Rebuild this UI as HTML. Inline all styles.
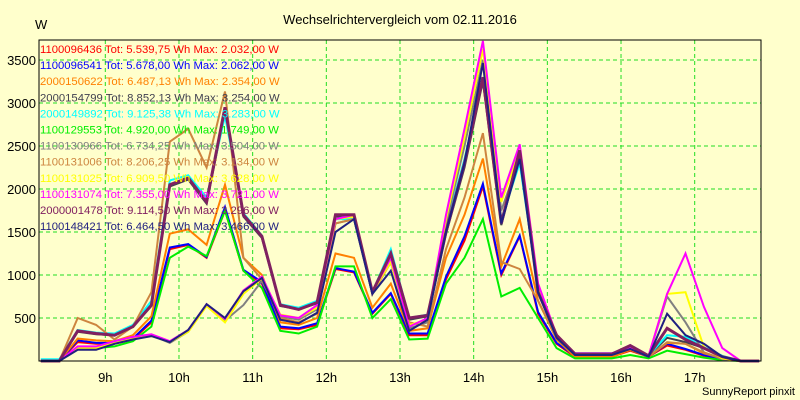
<!DOCTYPE html>
<html><head><meta charset="utf-8"><style>
html,body{margin:0;padding:0;background:#ffffcc;}
svg{display:block;font-family:"Liberation Sans",sans-serif;}
</style></head><body>
<svg id="chart" width="800" height="400" viewBox="0 0 800 400">
<rect x="0" y="0" width="800" height="400" fill="#ffffcc"/>
<text x="400" y="24" text-anchor="middle" font-size="13" fill="#000">Wechselrichtervergleich vom 02.11.2016</text>
<text x="35" y="29" font-size="13" fill="#000">W</text>
<text x="795" y="395" text-anchor="end" font-size="11" fill="#000">SunnyReport pinxit</text>
<g id="grid"></g>
<g id="series"></g>
<g id="axes"></g>
<g id="legend"></g>
</svg>
<script>
const times = ["08:07","08:22","08:37","08:52","09:07","09:22","09:37","09:52","10:07","10:22","10:37","10:52","11:07","11:22","11:37","11:52","12:07","12:22","12:37","12:52","13:07","13:22","13:37","13:52","14:07","14:22","14:37","14:52","15:07","15:22","15:37","15:52","16:07","16:22","16:37","16:52","17:07","17:22","17:37","17:52"];
const xTicks = [9,10,11,12,13,14,15,16,17];
const yTicks = [500,1000,1500,2000,2500,3000,3500];
const seriesNames = ["1100096436","1100096541","2000150622","2000154799","2000149892","1100129553","1100130966","1100131006","1100131025","1100131074","2000001478","1100148421"];
const seriesTot = ["5.539,75","5.678,00","6.487,13","8.852,13","9.125,38","4.920,00","6.734,25","8.206,25","6.909,50","7.355,00","9.114,50","6.464,50"];
const seriesMax = ["2.032,00","2.062,00","2.354,00","3.254,00","3.283,00","1.749,00","3.504,00","3.134,00","3.628,00","3.721,00","3.296,00","3.466,00"];
const seriesColors = ["#ff0000","#0000ff","#ff8000","#404050","#00ffff","#00ee00","#808080","#cd853f","#ffff00","#ff00ff","#802060","#202080"];
const s1100096436 = [0,0,220,200,200,250,450,1300,1350,1200,1750,1050,900,380,370,420,1070,1030,550,780,300,300,950,1400,2032,1000,1450,550,200,50,50,50,120,50,180,130,60,20,0,0];
const s1100096541 = [0,0,240,210,210,260,470,1320,1360,1210,1790,1060,920,400,380,440,1080,1040,560,790,320,320,980,1450,2062,1020,1460,570,210,60,60,60,130,50,200,140,70,20,0,0];
const s2000150622 = [0,0,260,240,230,300,520,1480,1530,1350,2050,1200,1000,450,420,500,1250,1200,620,900,350,380,1200,1700,2354,1100,1650,700,250,50,50,50,130,50,210,200,90,30,0,0];
const s2000154799 = [0,0,340,310,300,400,640,2030,2110,1830,2900,1680,1430,640,600,670,1680,1680,780,1220,480,520,1480,2250,3254,1580,2400,800,290,80,80,80,170,60,270,220,150,50,0,0];
const s2000149892 = [20,20,360,330,320,420,700,2100,2160,1900,2850,1720,1460,660,620,700,1650,1650,800,1300,500,540,1550,2350,3283,1650,2300,850,300,90,90,90,170,60,300,280,160,60,0,0];
const s1100129553 = [0,0,150,150,170,230,400,1200,1330,1220,1749,1050,850,350,320,400,1100,1100,500,720,250,260,900,1200,1650,750,850,500,150,30,30,30,70,30,120,80,40,10,0,0];
const s1100130966 = [0,0,150,150,230,270,300,210,340,650,470,650,930,520,480,600,1600,1650,790,1150,380,450,1600,2500,3504,1750,2350,850,280,80,80,80,150,60,750,450,100,20,0,0];
const s1100131006 = [0,0,500,420,250,400,800,2550,2700,2250,3134,1200,950,500,450,550,1600,1650,780,1150,450,400,1300,1900,2650,1150,1070,700,260,70,70,70,150,50,220,200,100,30,0,0];
const s1100131025 = [0,0,150,150,220,260,290,220,340,640,450,780,960,540,500,620,1650,1680,800,1150,420,480,1650,2600,3628,1850,2450,880,290,80,80,80,150,60,780,800,160,30,0,0];
const s1100131074 = [0,0,170,170,230,280,310,230,360,660,490,820,980,530,500,650,1650,1700,800,1200,400,500,1700,2700,3721,1900,2520,900,300,90,90,90,160,60,780,1250,630,150,0,0];
const s2000001478 = [0,0,350,320,300,400,650,2050,2130,1850,2950,1700,1450,650,600,680,1700,1700,800,1250,500,530,1500,2300,3300,1600,2450,800,300,80,80,80,180,60,380,250,150,50,0,0];
const s1100148421 = [0,0,130,130,200,250,290,220,360,660,500,810,965,480,440,560,1500,1650,780,1050,350,480,1500,2300,3466,1600,2350,800,270,70,70,70,140,50,550,300,200,50,0,0];
const seriesValues = [s1100096436,s1100096541,s2000150622,s2000154799,s2000149892,s1100129553,s1100130966,s1100131006,s1100131025,s1100131074,s2000001478,s1100148421];

const NS="http://www.w3.org/2000/svg";
const L=39,R=761,T=40,B=361;
const tMin=8.1,tMax=17.9,vMax=3733;
function xScale(t){return L+(t-tMin)/(tMax-tMin)*(R-L);}
function yScale(v){return B-v/vMax*(B-T);}
function tHours(s){const p=s.split(":");return +p[0]+(+p[1]+0.5)/60;}
function mk(tag,attrs,parent){const e=document.createElementNS(NS,tag);for(const k in attrs)e.setAttribute(k,attrs[k]);parent.appendChild(e);return e;}

const grid=document.getElementById('grid');
xTicks.forEach(h=>{
  const ln=mk('line',{x1:xScale(h),x2:xScale(h),y1:T,y2:B,stroke:'#22dd22','stroke-width':1,'stroke-dasharray':'4,3'},grid);
  
  
});
yTicks.forEach(v=>{
  const ln=mk('line',{x1:L,x2:R,y1:yScale(v),y2:yScale(v),stroke:'#22dd22','stroke-width':1,'stroke-dasharray':'4,3'},grid);
  
  
});

const sg=document.getElementById('series');
seriesValues.forEach((vals,si)=>{
  const pts=vals.map((v,i)=>xScale(tHours(times[i])).toFixed(1)+','+yScale(v).toFixed(1)).join(' ');
  const pl=mk('polyline',{points:pts,fill:'none',stroke:seriesColors[si],'stroke-width':si===10?3:2,'stroke-linejoin':'miter'},sg);
  
  
});

const ax=document.getElementById('axes');
const frame=mk('rect',{x:L,y:T,width:R-L,height:B-T,fill:'none',stroke:'#000','stroke-width':1},ax);


yTicks.forEach(v=>{
  const tx=mk('text',{x:36,y:yScale(v)+5,'text-anchor':'end','font-size':13,fill:'#000'},ax);
  tx.textContent=String(v);
  
  
});
xTicks.forEach(h=>{
  const tx=mk('text',{x:xScale(h),y:382,'text-anchor':'middle','font-size':13,fill:'#000'},ax);
  tx.textContent=h+'h';
  
  
});

const lg=document.getElementById('legend');
seriesNames.forEach((n,i)=>{
  const tx=mk('text',{x:40,y:53+i*16.1,'font-size':11.3,fill:seriesColors[i]},lg);
  tx.textContent=n+' Tot: '+seriesTot[i]+' Wh Max: '+seriesMax[i]+' W';
  
  
});
</script>
</body></html>
